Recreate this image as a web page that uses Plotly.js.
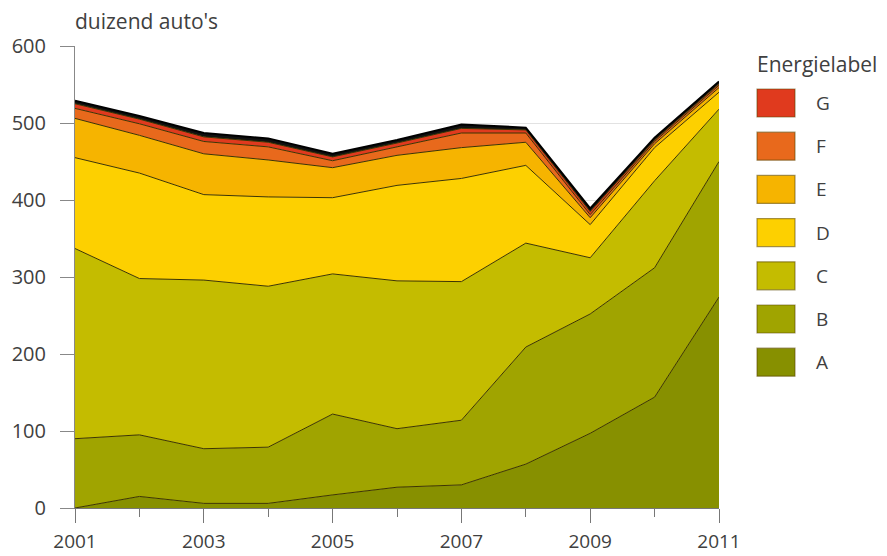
<!DOCTYPE html>
<html>
<head>
<meta charset="utf-8">
<script src="https://cdn.plot.ly/plotly-3.0.1.min.js"></script>
<style>html,body{margin:0;padding:0;background:#fff}#chart{width:887px;height:556px}</style>
</head>
<body>
<div id="chart"></div>
<script>
// Data (thousand cars per energy label)
const years = [2001, 2002, 2003, 2004, 2005, 2006, 2007, 2008, 2009, 2010, 2011];
const categories = ['A', 'B', 'C', 'D', 'E', 'F', 'G'];
const valuesA = [0, 15, 6, 6, 17, 27, 30, 57, 97, 144, 274];
const valuesB = [90, 80, 71, 73, 105, 76, 84, 152, 155, 168, 176];
const valuesC = [247, 203, 219, 209, 182, 192, 180, 135, 73, 113, 68];
const valuesD = [118, 137, 111, 116, 99, 124, 134, 101, 43, 43, 22];
const valuesE = [51, 49, 53, 48, 39, 39, 40, 30, 9, 5, 6];
const valuesF = [13, 15, 16, 17, 9, 11, 19, 12, 4, 3, 3];
const valuesG = [6, 6, 6, 6, 5, 5, 6, 4, 4, 2, 2];
const valuesOther = [4, 4, 5, 5, 4, 4, 5, 3, 4, 3, 3];
const xTickVals = [2001, 2003, 2005, 2007, 2009, 2011];
const yTickVals = [0, 100, 200, 300, 400, 500, 600];
const yUnitLabel = "duizend auto's";
const legendTitle = 'Energielabel';

const colors = ['#879000', '#a0a400', '#c4bc00', '#fdd000', '#f6b400', '#e8691c', '#e03a1e'];
const seriesValues = [valuesA, valuesB, valuesC, valuesD, valuesE, valuesF, valuesG];

const traces = categories.map((c, i) => ({
  type: 'scatter', mode: 'lines', name: c, x: years, y: seriesValues[i],
  stackgroup: 'one', fillcolor: colors[i],
  line: {color: '#3d3400', width: 1}, showlegend: false, hoverinfo: 'x+y+name'
}));
traces.push({
  type: 'scatter', mode: 'lines', name: 'overig', x: years, y: valuesOther,
  stackgroup: 'one', fillcolor: '#111', line: {color: '#000', width: 2}, showlegend: false
});

// Legend built as shapes + annotations (paper coords)
const L = 75, R = 719, T = 46, B = 508;
const px = v => (v - L) / (R - L);
const py = v => (B - v) / (B - T);
const txt = '#404040';
const shapes = [];
const annotations = [{
  text: yUnitLabel, xref: 'paper', yref: 'paper', x: px(73), y: py(21),
  xanchor: 'left', yanchor: 'middle', showarrow: false,
  font: {size: 21, color: txt}
}, {
  text: legendTitle, xref: 'paper', yref: 'paper', x: px(755), y: py(64),
  xanchor: 'left', yanchor: 'middle', showarrow: false,
  font: {size: 21, color: txt}
}];
const order = categories.slice().reverse();
order.forEach((c, k) => {
  const i = categories.indexOf(c);
  const top = 89 + k * 43.2;
  shapes.push({
    type: 'rect', xref: 'paper', yref: 'paper',
    x0: px(757), x1: px(795), y0: py(top), y1: py(top + 28),
    fillcolor: colors[i], line: {color: 'rgba(90,70,0,0.55)', width: 1.2}
  });
  annotations.push({
    text: c, xref: 'paper', yref: 'paper', x: px(814), y: py(top + 14),
    xanchor: 'left', yanchor: 'middle', showarrow: false,
    font: {size: 19, color: txt}
  });
});

const layout = {
  width: 887, height: 556,
  margin: {l: L, r: 887 - R, t: T, b: 556 - B, pad: 0},
  paper_bgcolor: '#fff', plot_bgcolor: '#fff',
  font: {family: 'Open Sans, Noto Sans, sans-serif', size: 20, color: txt},
  showlegend: false,
  xaxis: {
    range: [2001, 2011], tickvals: xTickVals, tickformat: 'd',
    ticks: 'outside', ticklen: 14, tickcolor: '#777', tickwidth: 1,
    minor: {dtick: 1, tick0: 2001, ticks: 'outside', ticklen: 8, tickcolor: '#777', showgrid: false},
    showline: true, linecolor: '#777', linewidth: 1, showgrid: false, zeroline: false,
    ticklabelstandoff: 2, tickfont: {size: 19, color: txt}, fixedrange: true
  },
  yaxis: {
    range: [0, 600], tickvals: yTickVals,
    ticks: 'outside', ticklen: 14, tickcolor: '#888', tickwidth: 1,
    showline: true, linecolor: '#888', linewidth: 1,
    showgrid: true, gridcolor: '#e2e2e2', gridwidth: 1, zeroline: false,
    ticklabelstandoff: 10, tickfont: {size: 20, color: txt}, fixedrange: true
  },
  shapes: shapes, annotations: annotations
};

Plotly.newPlot('chart', traces, layout, {displayModeBar: false, staticPlot: true});
</script>
</body>
</html>
